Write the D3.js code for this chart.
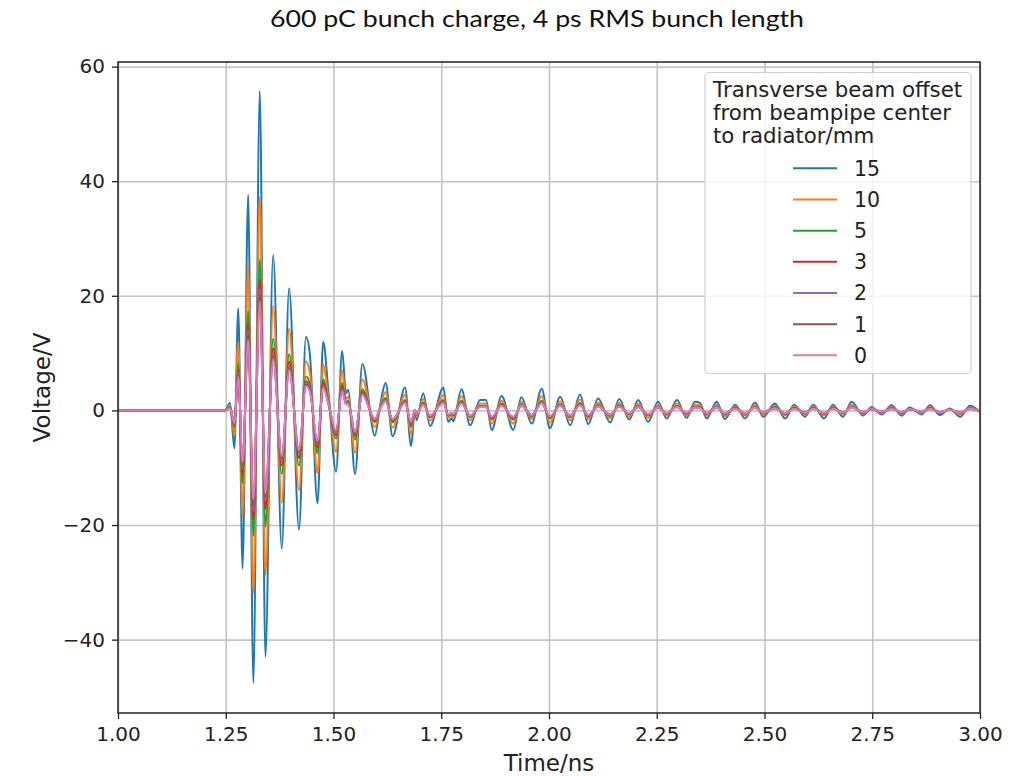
<!DOCTYPE html>
<html>
<head>
<meta charset="utf-8">
<script src="https://cdn.jsdelivr.net/npm/d3@7"></script>
<style>
  body { margin: 0; background: #ffffff; }
  svg { display: block; }
</style>
</head>
<body>
<svg id="chart" width="1033" height="776"></svg>
<script>
// Time samples (ns) at the turning points of the wakefield signal
const timeNs = [
  1.000, 1.248, 1.260, 1.270, 1.279, 1.289, 1.302, 1.314, 1.329, 1.342,
  1.360, 1.380, 1.397, 1.420, 1.436, 1.445, 1.463, 1.476, 1.488, 1.506,
  1.520, 1.529, 1.534, 1.550, 1.567, 1.596, 1.608, 1.621, 1.637, 1.666,
  1.680, 1.689, 1.693, 1.708, 1.724, 1.755, 1.766, 1.774, 1.778, 1.797,
  1.817, 1.840, 1.854, 1.867, 1.890, 1.917, 1.936, 1.960, 1.983, 2.002,
  2.026, 2.049, 2.072, 2.091, 2.114, 2.142, 2.163, 2.186, 2.207, 2.230,
  2.253, 2.273, 2.297, 2.319, 2.339, 2.350, 2.366, 2.389, 2.408, 2.432,
  2.455, 2.478, 2.497, 2.524, 2.548, 2.569, 2.594, 2.613, 2.638, 2.659,
  2.682, 2.702, 2.729, 2.748, 2.772, 2.795, 2.818, 2.837, 2.865, 2.884,
  2.907, 2.930, 2.954, 2.977, 3.000
];

// Voltage (V) for each transverse offset (mm)
const v15 = [
  0, 0, 1.3, -6.6, 17.8, -27.6, 37.6, -47.6, 55.8, -43.0,
  27.1, -24.1, 21.3, -20.8, 12.8, 10.0, -16.2, 12.0, 3.5, -10.7,
  10.4, 3.0, 3.6, -11.1, 8.1, -4.4, 0.8, 4.8, -4.5, 4.0,
  -6.2, 0.0, -1.7, 3.0, -2.7, 4.0, -2.0, -1.4, -1.9, 3.7,
  -2.6, 1.8, 1.8, -3.4, 2.5, -3.4, 2.3, -2.3, 3.8, -3.1,
  2.4, -2.6, 2.8, -2.4, 2.1, -2.1, 2.0, -1.6, 1.8, -2.0,
  1.5, -1.4, 1.8, -1.3, 1.5, 1.3, -1.4, 1.5, -1.5, 1.0,
  -1.4, 1.4, -1.1, 1.2, -1.4, 1.0, -1.1, 1.0, -1.4, 1.0,
  -1.1, 1.5, -0.9, 0.6, -0.7, 0.9, -0.9, 0.5, -0.7, 0.9,
  -0.8, 0.35, -1.1, 0.8, -0.3
];
const v10 = [
  0, 0, 0.9, -4.4, 11.9, -18.5, 25.2, -31.9, 37.3, -28.7,
  18.2, -16.1, 14.3, -13.9, 8.6, 6.7, -10.9, 8.0, 2.3, -7.2,
  7.0, 2.0, 2.4, -7.4, 5.4, -2.9, 0.5, 3.2, -3.0, 2.7,
  -4.2, 0.0, -1.1, 2.0, -1.8, 2.7, -1.3, -0.9, -1.3, 2.5,
  -1.7, 1.2, 1.2, -2.3, 1.7, -2.3, 1.5, -1.5, 2.5, -2.1,
  1.6, -1.7, 1.9, -1.6, 1.4, -1.4, 1.3, -1.1, 1.2, -1.3,
  1.0, -0.9, 1.2, -0.9, 1.0, 0.9, -0.9, 1.0, -1.0, 0.7,
  -0.9, 0.9, -0.7, 0.8, -0.9, 0.7, -0.7, 0.7, -0.9, 0.7,
  -0.7, 1.0, -0.6, 0.4, -0.5, 0.6, -0.6, 0.3, -0.5, 0.6,
  -0.5, 0.2, -0.7, 0.5, -0.2
];
const v5 = [
  0, 0, 0.6, -3.0, 8.2, -12.7, 17.3, -21.9, 26.3, -20.3,
  12.5, -11.1, 9.8, -9.6, 5.9, 4.6, -7.5, 5.5, 1.6, -4.9,
  4.8, 1.4, 1.7, -5.1, 3.7, -2.0, 0.4, 2.2, -2.1, 1.8,
  -2.9, 0.0, -0.8, 1.4, -1.2, 1.8, -0.9, -0.6, -0.9, 1.7,
  -1.2, 0.8, 0.8, -1.6, 1.2, -1.6, 1.1, -1.1, 1.7, -1.4,
  1.1, -1.2, 1.3, -1.1, 1.0, -1.0, 0.9, -0.7, 0.8, -0.9,
  0.7, -0.6, 0.8, -0.6, 0.7, 0.6, -0.6, 0.7, -0.7, 0.5,
  -0.6, 0.6, -0.5, 0.6, -0.6, 0.5, -0.5, 0.5, -0.6, 0.5,
  -0.5, 0.7, -0.4, 0.3, -0.3, 0.4, -0.4, 0.2, -0.3, 0.4,
  -0.4, 0.2, -0.5, 0.4, -0.1
];
const v3 = [
  0, 0, 0.5, -2.6, 7.1, -11.0, 15.0, -19.0, 22.8, -17.1,
  10.8, -9.6, 8.5, -8.3, 5.1, 4.0, -6.5, 4.8, 1.4, -4.3,
  4.2, 1.2, 1.4, -4.4, 3.2, -1.8, 0.3, 1.9, -1.8, 1.6,
  -2.5, 0.0, -0.7, 1.2, -1.1, 1.6, -0.8, -0.6, -0.8, 1.5,
  -1.0, 0.7, 0.7, -1.4, 1.0, -1.4, 0.9, -0.9, 1.5, -1.2,
  1.0, -1.0, 1.1, -1.0, 0.8, -0.8, 0.8, -0.6, 0.7, -0.8,
  0.6, -0.6, 0.7, -0.5, 0.6, 0.5, -0.6, 0.6, -0.6, 0.4,
  -0.6, 0.6, -0.4, 0.5, -0.6, 0.4, -0.4, 0.4, -0.6, 0.4,
  -0.4, 0.6, -0.4, 0.2, -0.3, 0.4, -0.4, 0.2, -0.3, 0.4,
  -0.3, 0.1, -0.4, 0.3, -0.1
];
const v2 = [
  0, 0, 0.5, -2.4, 6.6, -10.2, 13.9, -17.6, 21.2, -15.7,
  10.0, -8.9, 7.9, -7.7, 4.7, 3.7, -6.0, 4.4, 1.3, -4.0,
  3.8, 1.1, 1.3, -4.1, 3.0, -1.6, 0.3, 1.8, -1.7, 1.5,
  -2.3, 0.0, -0.6, 1.1, -1.0, 1.5, -0.7, -0.5, -0.7, 1.4,
  -1.0, 0.7, 0.7, -1.3, 0.9, -1.3, 0.9, -0.9, 1.4, -1.1,
  0.9, -1.0, 1.0, -0.9, 0.8, -0.8, 0.7, -0.6, 0.7, -0.7,
  0.6, -0.5, 0.7, -0.5, 0.6, 0.5, -0.5, 0.6, -0.6, 0.4,
  -0.5, 0.5, -0.4, 0.4, -0.5, 0.4, -0.4, 0.4, -0.5, 0.4,
  -0.4, 0.6, -0.3, 0.2, -0.3, 0.3, -0.3, 0.2, -0.3, 0.3,
  -0.3, 0.1, -0.4, 0.3, -0.1
];
const v1 = [
  0, 0, 0.5, -2.3, 6.2, -9.7, 13.2, -16.7, 20.2, -15.1,
  9.5, -8.4, 7.5, -7.3, 4.5, 3.5, -5.7, 4.2, 1.2, -3.7,
  3.6, 1.1, 1.3, -3.9, 2.8, -1.5, 0.3, 1.7, -1.6, 1.4,
  -2.2, 0.0, -0.6, 1.1, -0.9, 1.4, -0.7, -0.5, -0.7, 1.3,
  -0.9, 0.6, 0.6, -1.2, 0.9, -1.2, 0.8, -0.8, 1.3, -1.1,
  0.8, -0.9, 1.0, -0.8, 0.7, -0.7, 0.7, -0.6, 0.6, -0.7,
  0.5, -0.5, 0.6, -0.5, 0.5, 0.5, -0.5, 0.5, -0.5, 0.4,
  -0.5, 0.5, -0.4, 0.4, -0.5, 0.4, -0.4, 0.4, -0.5, 0.4,
  -0.4, 0.5, -0.3, 0.2, -0.2, 0.3, -0.3, 0.2, -0.2, 0.3,
  -0.3, 0.1, -0.4, 0.3, -0.1
];
const v0 = [
  0, 0, 0.4, -2.2, 5.9, -9.0, 12.3, -15.5, 19.0, -14.4,
  8.9, -8.0, 7.0, -6.9, 4.2, 3.3, -5.3, 4.0, 1.2, -3.5,
  3.4, 1.0, 1.2, -3.7, 2.7, -1.5, 0.3, 1.6, -1.5, 1.3,
  -2.0, 0.0, -0.6, 1.0, -0.9, 1.3, -0.7, -0.5, -0.6, 1.2,
  -0.9, 0.6, 0.6, -1.1, 0.8, -1.1, 0.8, -0.8, 1.3, -1.0,
  0.8, -0.9, 0.9, -0.8, 0.7, -0.7, 0.7, -0.5, 0.6, -0.7,
  0.5, -0.5, 0.6, -0.4, 0.5, 0.4, -0.5, 0.5, -0.5, 0.3,
  -0.5, 0.5, -0.4, 0.4, -0.5, 0.3, -0.4, 0.3, -0.5, 0.3,
  -0.4, 0.5, -0.3, 0.2, -0.2, 0.3, -0.3, 0.2, -0.2, 0.3,
  -0.3, 0.1, -0.4, 0.3, -0.1
];

const offsetLabels = ["15", "10", "5", "3", "2", "1", "0"];
const seriesValues = [v15, v10, v5, v3, v2, v1, v0];
const seriesColors = ["#1f77b4", "#ff7f0e", "#2ca02c", "#d62728", "#9467bd", "#8c564b", "#e377c2"];

const xTicks = [1.00, 1.25, 1.50, 1.75, 2.00, 2.25, 2.50, 2.75, 3.00];
const yTicks = [-40, -20, 0, 20, 40, 60];

const chartTitle = "600 pC bunch charge, 4 ps RMS bunch length";
const xLabel = "Time/ns";
const yLabel = "Voltage/V";
const legendTitle = ["Transverse beam offset", "from beampipe center", "to radiator/mm"];

// ---- layout ----
const plot = { left: 118, right: 980, top: 62, bottom: 713 };
const FONT = "DejaVu Sans, Verdana, sans-serif";

const svg = d3.select("#chart");

const x = d3.scaleLinear().domain([1, 3]).range([plot.left, plot.right]);
const y = d3.scaleLinear().domain([-52.8, 60.8]).range([plot.bottom, plot.top]);

// title
svg.append("text")
  .attr("x", 537).attr("y", 27)
  .attr("text-anchor", "middle")
  .attr("font-family", "Lato, 'Open Sans', sans-serif")
  .attr("font-size", 24)
  .attr("textLength", 534)
  .attr("lengthAdjust", "spacingAndGlyphs")
  .attr("fill", "#111")
  .text(chartTitle);

// grid
const grid = svg.append("g").attr("class", "grid");
grid.append("g")
  .attr("transform", `translate(0,${plot.bottom})`)
  .call(d3.axisBottom(x).tickValues(xTicks).tickSize(-(plot.bottom - plot.top)).tickFormat(""))
  .call(g => g.select(".domain").remove())
  .call(g => g.selectAll("line").attr("stroke", "#c4c4c4").attr("stroke-width", 1.6));
grid.append("g")
  .attr("transform", `translate(${plot.left},0)`)
  .call(d3.axisLeft(y).tickValues(yTicks).tickSize(-(plot.right - plot.left)).tickFormat(""))
  .call(g => g.select(".domain").remove())
  .call(g => g.selectAll("line").attr("stroke", "#c4c4c4").attr("stroke-width", 1.6));

// signal lines
svg.append("clipPath").attr("id", "plotClip")
  .append("rect")
  .attr("x", plot.left).attr("y", plot.top)
  .attr("width", plot.right - plot.left).attr("height", plot.bottom - plot.top);

const line = d3.line()
  .x(d => x(d[0]))
  .y(d => y(d[1]))
  .curve(d3.curveMonotoneX);

const series = offsetLabels.map((lab, i) => ({
  label: lab,
  color: seriesColors[i],
  points: timeNs.map((t, k) => [t, seriesValues[i][k]])
}));

svg.append("g")
  .attr("clip-path", "url(#plotClip)")
  .selectAll("path")
  .data(series)
  .join("path")
  .attr("d", d => line(d.points))
  .attr("fill", "none")
  .attr("stroke", d => d.color)
  .attr("stroke-width", 2)
  .attr("stroke-linejoin", "round");

// axes
const xAxis = svg.append("g")
  .attr("transform", `translate(0,${plot.bottom})`)
  .call(d3.axisBottom(x).tickValues(xTicks).tickSize(6).tickPadding(8).tickFormat(d3.format(".2f")));
xAxis.select(".domain").remove();
xAxis.selectAll("line").attr("stroke", "#222").attr("stroke-width", 1.3);
xAxis.selectAll("text")
  .attr("font-family", FONT).attr("font-size", 20).attr("fill", "#222");

const yAxis = svg.append("g")
  .attr("transform", `translate(${plot.left},0)`)
  .call(d3.axisLeft(y).tickValues(yTicks).tickSize(6).tickPadding(7).tickFormat(d => d < 0 ? "\u2212" + Math.abs(d) : String(d)));
yAxis.select(".domain").remove();
yAxis.selectAll("line").attr("stroke", "#222").attr("stroke-width", 1.3);
yAxis.selectAll("text")
  .attr("font-family", FONT).attr("font-size", 20).attr("fill", "#222");

// frame
svg.append("rect")
  .attr("x", plot.left).attr("y", plot.top)
  .attr("width", plot.right - plot.left).attr("height", plot.bottom - plot.top)
  .attr("fill", "none").attr("stroke", "#222").attr("stroke-width", 1.5);

// axis labels
svg.append("text")
  .attr("x", (plot.left + plot.right) / 2).attr("y", 771)
  .attr("text-anchor", "middle")
  .attr("font-family", FONT).attr("font-size", 23).attr("fill", "#222")
  .text(xLabel);

svg.append("text")
  .attr("transform", `translate(50,${(plot.top + plot.bottom) / 2}) rotate(-90)`)
  .attr("text-anchor", "middle")
  .attr("font-family", FONT).attr("font-size", 23).attr("fill", "#222")
  .text(yLabel);

// legend
const legend = svg.append("g").attr("class", "legend");
legend.append("rect")
  .attr("x", 705).attr("y", 72.5)
  .attr("width", 266).attr("height", 301)
  .attr("rx", 4)
  .attr("fill", "#ffffff").attr("fill-opacity", 0.8)
  .attr("stroke", "#d0d0d0").attr("stroke-width", 1.2);

legend.selectAll("text.lt")
  .data(legendTitle)
  .join("text")
  .attr("class", "lt")
  .attr("x", 713)
  .attr("y", (d, i) => 96.5 + i * 23.4)
  .attr("font-family", FONT).attr("font-size", 21.3).attr("fill", "#222")
  .text(d => d);

const rows = legend.selectAll("g.row")
  .data(series)
  .join("g")
  .attr("class", "row")
  .attr("transform", (d, i) => `translate(0,${168.3 + i * 31.17})`);
rows.append("line")
  .attr("x1", 793).attr("x2", 837)
  .attr("y1", 0).attr("y2", 0)
  .attr("stroke", d => d.color).attr("stroke-width", 2);
rows.append("text")
  .attr("x", 854).attr("y", 7.5)
  .attr("font-family", FONT).attr("font-size", 20.5).attr("fill", "#222")
  .text(d => d.label);
</script>
</body>
</html>
